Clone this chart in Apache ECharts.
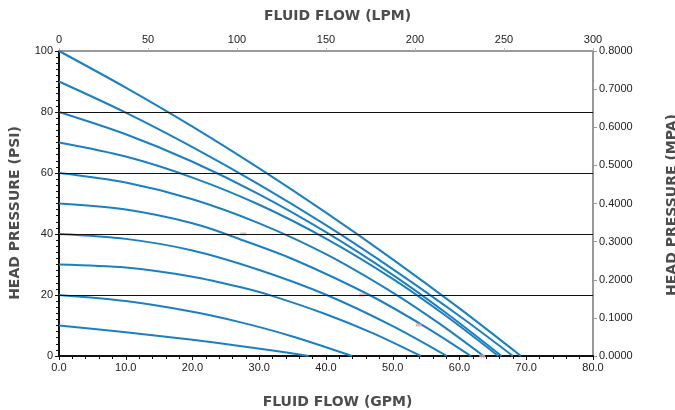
<!DOCTYPE html>
<html><head><meta charset="utf-8">
<script src="https://cdn.jsdelivr.net/npm/echarts@6/dist/echarts.min.js"></script>
<style>html,body{margin:0;padding:0;background:#fff}#c{width:675px;height:410px}</style>
</head><body><div id="c"></div>
<script>
// Pump curves: [flow GPM, head PSI]
const curve10  = [[0,10],[10,7.8],[20,5.3],[27.1,3.3],[32,1.8],[37.4,0]];
const curve20  = [[0,20],[10,18.0],[20,14.5],[27.1,11.1],[35,6.4],[43.9,0]];
const curve30  = [[0,30],[10,29.0],[20,26.0],[27.1,22.6],[31.8,19.8],[40,13.7],[47,7.5],[54.2,0]];
const curve40  = [[0,40],[10,38.4],[20,34.6],[30,28.2],[40.1,20],[50,9.8],[58.1,0]];
const curve50  = [[0,50],[10,48.0],[20,43.5],[27.1,38.3],[35,31.8],[46.5,20],[55,9.4],[61.7,0]];
const curve60  = [[0,60],[10,56.9],[20,51.4],[30,43.5],[40,33.4],[50,20.8],[57,10.6],[63.6,0]];
const curve70  = [[0,70],[10,65.4],[20,58.5],[30,49.6],[40,38.5],[50,25.3],[58,13.1],[65.8,0]];
const curve80  = [[0,80],[10,72.7],[20,63.7],[30,53.0],[40,40.6],[50,26.6],[58,14.1],[66.3,0]];
const curve90  = [[0,90],[10,79.8],[20,68.5],[30,56.2],[40,42.9],[50,28.5],[60,13.1],[68.0,0]];
const curve100 = [[0,100],[10,88.0],[20,75.2],[30,61.5],[40,47.0],[50,31.7],[60,15.6],[69.2,0]];
const curves = [curve10,curve20,curve30,curve40,curve50,curve60,curve70,curve80,curve90,curve100];
// small stray pink marks in the original
const strayMarks = [[27.6,40],[45.4,20],[53.9,10.2],[63.4,0]];
// horizontal reference lines (PSI)
const gridValues = [20,40,60,80];

const blue = '#1a80c4';
const labelFont = {color:'#222', fontSize:11, fontFamily:'Liberation Sans, Arial, sans-serif'};
const titleStyle = {fill:'#4d4d4d', font:'bold 14px "DejaVu Sans", sans-serif'};

const series = curves.map(c => ({
  type:'line', data:c, xAxisIndex:0, yAxisIndex:0, showSymbol:false,
  smooth:0.3, lineStyle:{color:blue, width:2}, z:3, silent:true
}));
series.push({
  type:'line', data:[], xAxisIndex:0, yAxisIndex:0,
  markLine:{silent:true, symbol:'none', label:{show:false},
    lineStyle:{color:'#111', width:1, type:'solid'},
    data:gridValues.map(v=>({yAxis:v}))}, z:2
});
series.push({
  type:'scatter', data:strayMarks, symbol:'rect', symbolSize:[6,3],
  itemStyle:{color:'#e3a3a3'}, z:4, silent:true
});

const chart = echarts.init(document.getElementById('c'), null, {renderer:'canvas'});
chart.setOption({
  animation:false,
  backgroundColor:'#fff',
  grid:{left:59, right:82, top:51, bottom:54},
  xAxis:[
    {type:'value', position:'bottom', min:0, max:80, interval:10,
     axisLine:{show:true, onZero:false, lineStyle:{color:'#111', width:2}},
     axisTick:{show:true, length:4, lineStyle:{color:'#111'}},
     minorTick:{show:true, splitNumber:5, length:3, lineStyle:{color:'#111'}},
     splitLine:{show:false},
     axisLabel:Object.assign({formatter:v=>v.toFixed(1), margin:6}, labelFont)},
    {type:'value', position:'top', min:0, max:300, interval:50,
     axisLine:{show:true, onZero:false, lineStyle:{color:'#999', width:2}},
     axisTick:{show:true, length:3, lineStyle:{color:'#bbb'}},
     splitLine:{show:false},
     axisLabel:Object.assign({margin:6}, labelFont)}
  ],
  yAxis:[
    {type:'value', position:'left', min:0, max:100, interval:20,
     axisLine:{show:true, onZero:false, lineStyle:{color:'#111', width:2}},
     axisTick:{show:true, length:4, lineStyle:{color:'#111'}},
     minorTick:{show:true, splitNumber:10, length:3, lineStyle:{color:'#111'}},
     splitLine:{show:false},
     axisLabel:Object.assign({margin:6}, labelFont)},
    {type:'value', position:'right', min:0, max:0.8, interval:0.1,
     axisLine:{show:true, onZero:false, lineStyle:{color:'#999', width:2}},
     axisTick:{show:true, length:4, lineStyle:{color:'#999'}},
     splitLine:{show:false},
     axisLabel:Object.assign({formatter:v=>v.toFixed(4), margin:6}, labelFont)}
  ],
  graphic:[
    {type:'text', left:'center', top:9, style:Object.assign({text:'FLUID FLOW (LPM)'}, titleStyle)},
    {type:'text', left:'center', top:395, style:Object.assign({text:'FLUID FLOW (GPM)'}, titleStyle)},
    {type:'text', x:15, y:213, rotation:Math.PI/2,
     style:Object.assign({text:'HEAD PRESSURE (PSI)', align:'center', verticalAlign:'middle'}, titleStyle)},
    {type:'text', x:672, y:205, rotation:Math.PI/2,
     style:Object.assign({text:'HEAD PRESSURE (MPA)', align:'center', verticalAlign:'middle'}, titleStyle)}
  ],
  series:series
});
</script></body></html>
